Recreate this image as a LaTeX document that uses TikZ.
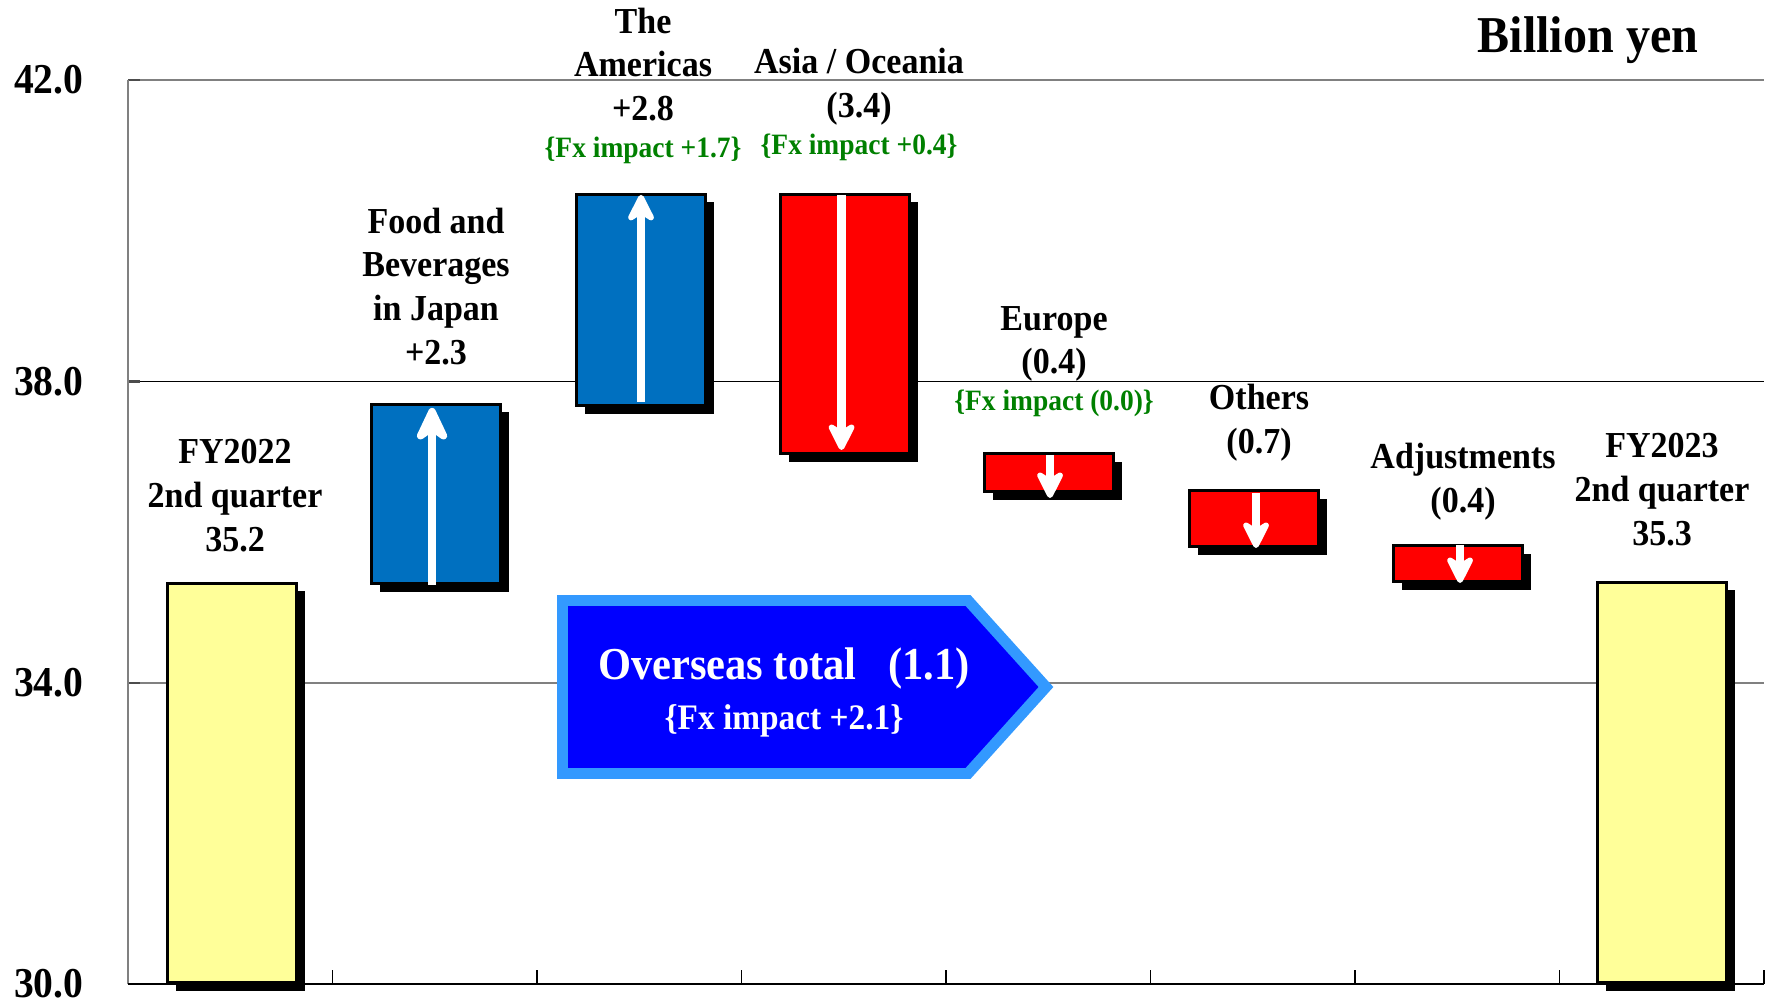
\documentclass[tikz,border=0pt]{standalone}
\usepackage{fontspec}
\setmainfont{Liberation Serif}[FakeStretch=0.93]
\usepackage{tikz}
\usetikzlibrary{arrows.meta,positioning,shadows}

\definecolor{barblue}{HTML}{0070C0}
\definecolor{barred}{HTML}{FF0000}
\definecolor{baryellow}{HTML}{FFFF99}
\definecolor{ovsblue}{HTML}{0000FF}
\definecolor{ovsedge}{HTML}{3399FF}
\definecolor{fxgreen}{HTML}{008000}
\definecolor{gridgray}{HTML}{808080}

\newcommand{\fxnote}[1]{{\color{fxgreen}\fontsize{8.4pt}{10pt}\selectfont\{Fx impact #1\}}}

\begin{document}
\begin{tikzpicture}[x=0.01cm,y=0.01cm,>=latex]

  \tikzstyle{BAR}=[draw, line width=0.85pt, rectangle, inner sep=0pt,
    minimum width=1.29cm, anchor=south west,
    drop shadow={shadow xshift=2.3pt,shadow yshift=-2.3pt,fill=black,opacity=1}];
  \tikzstyle{YB}=[BAR, fill=baryellow];
  \tikzstyle{BB}=[BAR, fill=barblue];
  \tikzstyle{RB}=[BAR, fill=barred];
  \tikzstyle{LBL}=[align=center, inner sep=0pt, text depth=0pt,
    font=\fontsize{10.4pt}{12.4pt}\selectfont\bfseries];
  \tikzstyle{AX}=[anchor=east, inner sep=0pt,
    font=\fontsize{12.1pt}{14pt}\selectfont\bfseries];
  \tikzstyle{GRID}=[line width=0.45pt, gridgray];
  \tikzstyle{ARR}=[white, line width=2.3pt,
    -{Stealth[round, width=9.6pt, length=9.6pt, inset=3pt]}];
  \tikzstyle{OVS}=[anchor=base, inner sep=0pt, text=white];

  \useasboundingbox (0,0) rectangle (1770,1000);

  %% grid and axes
  \draw[GRID] (128,920) -- (1764,920);
  \draw[line width=0.45pt] (128,618.5) -- (1764,618.5);
  \draw[GRID] (128,317) -- (1764,317);
  \foreach \yy in {920,618.5,317}
    \draw[black!70, line width=0.6pt] (128,\yy) -- ++(12,0);
  \draw[gridgray, line width=0.75pt] (128,16) -- (128,920);
  \draw[line width=0.5pt] (128,16) -- (1764,16);
  \foreach \k in {1,...,8}
    \draw[line width=0.4pt] (128+204.5*\k,16) -- ++(0,14);

  \node[AX] (l42) at (84,920) {42.0};
  \node[AX] (l38) at (84,618.5) {38.0};
  \node[AX] (l34) at (84,317) {34.0};
  \node[AX] (l30) at (84,16) {30.0};

  \node[anchor=base, inner sep=0pt,
    font=\fontsize{14.7pt}{16pt}\selectfont\bfseries] (unit) at (1588,947) {Billion yen};

  %% bars
  \node[YB, minimum height=3.99cm] (y1) at (166,16) {};
  \node[BB, minimum height=1.79cm] (jp) at (370,415) {};
  \node[BB, minimum height=2.11cm] (am) at (575,593) {};
  \node[RB, minimum height=2.59cm] (as) at (779,545) {};
  \node[RB, minimum height=0.38cm] (eu) at (983,507) {};
  \node[RB, minimum height=0.56cm] (ot) at (1188,452) {};
  \node[RB, minimum height=0.36cm] (ad) at (1392,417) {};
  \node[YB, minimum height=4.00cm] (y2) at (1596,16) {};

  %% arrows in the bars
  \draw[ARR, -{Stealth[round, width=11.5pt, length=12.3pt, inset=4pt]}]
    ([xshift=-0.04cm]jp.south) -- ([xshift=-0.04cm,yshift=-0.05cm]jp.north);
  \draw[ARR] ([yshift=0.05cm]am.south) -- ([yshift=-0.02cm]am.north);
  \draw[ARR] ([xshift=-0.035cm,yshift=-0.02cm]as.north) -- ([xshift=-0.035cm,yshift=0.05cm]as.south);
  \draw[ARR] ([xshift=0.01cm,yshift=-0.03cm]eu.north) -- ([xshift=0.01cm,yshift=-0.05cm]eu.south);
  \draw[ARR] ([xshift=0.02cm,yshift=-0.04cm]ot.north) -- ([xshift=0.02cm]ot.south);
  \draw[ARR] ([xshift=0.02cm,yshift=-0.01cm]ad.north) -- ([xshift=0.02cm]ad.south);

  %% overseas total
  \draw[fill=ovsblue, draw=ovsedge, line width=3.1pt]
    (562.5,399.5) -- (968,399.5) -- (1046,313) -- (968,226.5) -- (562.5,226.5) -- cycle;
  \node[OVS, font=\fontsize{13pt}{15pt}\selectfont\bfseries] (ovs) at (784,320) {Overseas total~~~(1.1)};
  \node[OVS, font=\fontsize{10.2pt}{12pt}\selectfont\bfseries] (ovsfx) at (784,270) {\{Fx impact +2.1\}};

  %% labels
  \node[LBL, above=0.30cm of y1, xshift=0.03cm] (t1) {FY2022\\2nd quarter\\35.2};
  \node[LBL, above=0.38cm of jp] (t2) {Food and\\Beverages\\in Japan\\+2.3};
  \node[LBL, above=0.35cm of am, xshift=0.02cm] (t3) {The\\Americas\\+2.8\\[-2pt]\fxnote{+1.7}};
  \node[LBL, above=0.38cm of as, xshift=0.14cm] (t4) {Asia / Oceania\\(3.4)\\[-2pt]\fxnote{+0.4}};
  \node[LBL, above=0.41cm of eu, xshift=0.05cm] (t5) {Europe\\(0.4)\\[-2pt]\fxnote{(0.0)}};
  \node[LBL, above=0.35cm of ot, xshift=0.05cm] (t6) {Others\\(0.7)};
  \node[LBL, above=0.31cm of ad, xshift=0.05cm] (t7) {Adjustments\\(0.4)};
  \node[LBL, above=0.35cm of y2] (t8) {FY2023\\2nd quarter\\35.3};

\end{tikzpicture}
\end{document}
